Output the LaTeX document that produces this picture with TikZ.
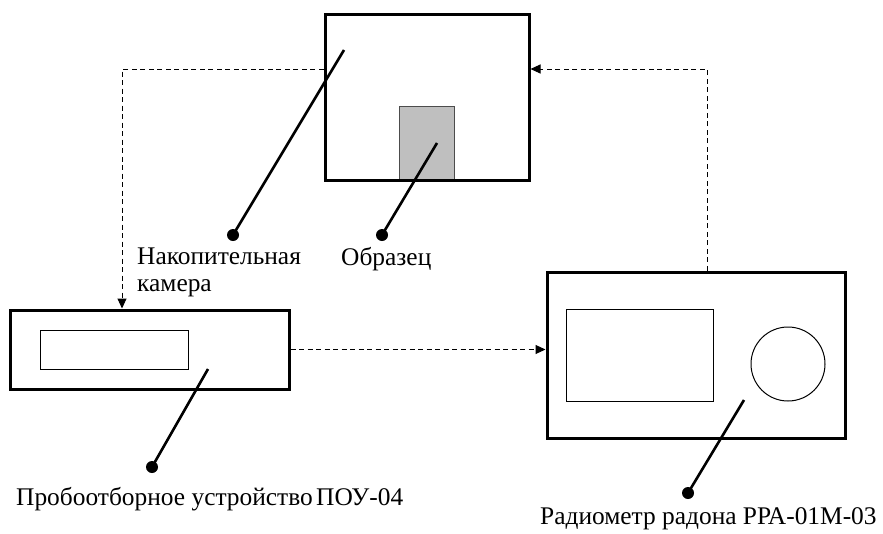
\documentclass[tikz,border=0pt]{standalone}
\usepackage{fontspec}
\setmainfont{Liberation Serif}
\usetikzlibrary{arrows.meta}

\begin{document}
\begin{tikzpicture}[x=1pt, y=-1pt,
    box/.style={draw, line width=3pt, inner sep=0pt},
    part/.style={draw, line width=1pt, inner sep=0pt},
    flow/.style={line width=1pt, dash pattern=on 5pt off 3.5pt, -{Triangle[length=10pt,width=9pt]}},
    lead/.style={line width=2.6pt},
    pin/.style={circle, fill, inner sep=0pt, minimum size=12pt},
    lbl/.style={inner sep=0pt, font=\fontsize{25.4}{27}\selectfont}]
\useasboundingbox (0,0) rectangle (883,533);

% накопительная камера с образцом
\node[part, fill=black!25, draw=black!70, minimum width=55pt, minimum height=74pt] (sample) at (426.5,143) {};
\node[box, minimum width=204pt, minimum height=166pt] (chamber) at (427,97) {};

% пробоотборное устройство
\node[box, minimum width=279pt, minimum height=79pt] (pou) at (149.5,349.5) {};
\node[part, minimum width=148pt, minimum height=39pt] (pouwin) at (114,349.5) {};

% радиометр
\node[box, minimum width=298pt, minimum height=166pt] (rad) at (696,355) {};
\node[part, minimum width=147pt, minimum height=92pt] (radwin) at (639.5,355) {};
\node[part, circle, minimum size=74pt] (knob) at (788,364) {};

% потоки воздуха
\draw[flow] ([yshift=28pt]chamber.west) -| ([xshift=-27.5pt]pou.north);
\draw[flow] (pou.east) -- (pou.east -| rad.west);
\draw[flow] ([xshift=11pt]rad.north) |- ([yshift=28pt]chamber.east);

% выноски
\coordinate (chamber-p) at (344,50);
\node[pin] (chamber-pin) at (233,235) {};
\draw[lead] (chamber-p) -- (chamber-pin.center);
\node[lbl, anchor=north west, align=left] (chamber-lbl) at (137,248) {Накопительная\\камера};

\coordinate (sample-p) at (437,143);
\node[pin] (sample-pin) at (382,235) {};
\draw[lead] (sample-p) -- (sample-pin.center);
\node[lbl, anchor=base west] (sample-lbl) at (341,265) {Образец};

\coordinate (pou-p) at (208,369);
\node[pin] (pou-pin) at (152,467) {};
\draw[lead] (pou-p) -- (pou-pin.center);
\node[lbl, anchor=base west] (pou-lbl) at (16,505) {Пробоотборное устройство\hspace{-3pt} ПОУ-04};

\coordinate (rad-p) at (744,400);
\node[pin] (rad-pin) at (688,493) {};
\draw[lead] (rad-p) -- (rad-pin.center);
\node[lbl, anchor=base west] (rad-lbl) at (540,524) {Радиометр радона РРА-01М-03};
\end{tikzpicture}
\end{document}
